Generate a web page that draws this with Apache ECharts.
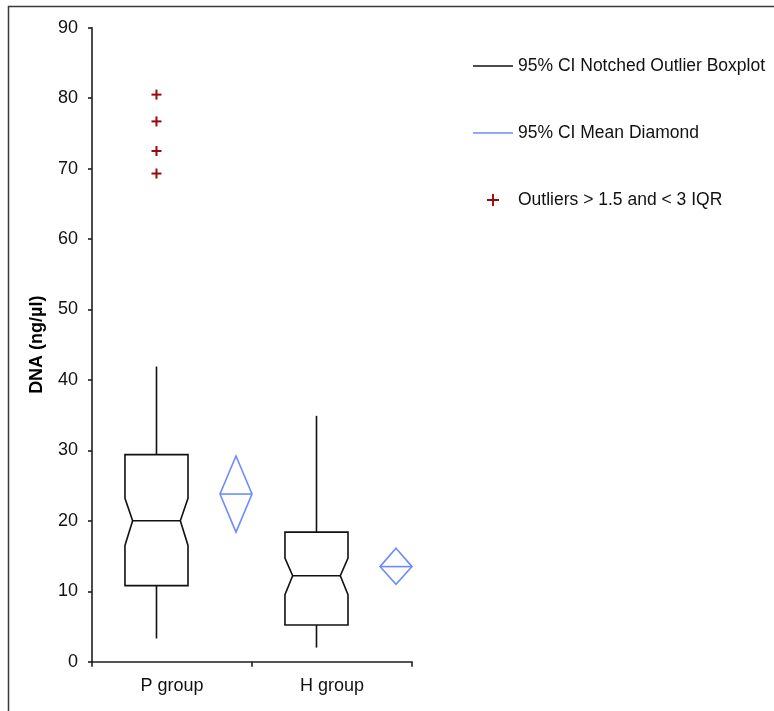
<!DOCTYPE html>
<html>
<head>
<meta charset="utf-8">
<title>DNA concentration by group</title>
<script src="https://cdn.jsdelivr.net/npm/echarts@6/dist/echarts.min.js"></script>
<style>
  html, body { margin: 0; padding: 0; background: #fff; }
  #chart { width: 774px; height: 711px; }
</style>
</head>
<body>
<div id="chart"></div>
<script>
// Groups on the x axis
const categories = ['P group', 'H group'];

// Notched boxplot statistics (ng/µl)
const whiskerLow  = [3.3, 2.0];
const quartile1   = [10.8, 5.2];
const notchLow    = [16.5, 9.5];
const medians     = [20.0, 12.2];
const notchHigh   = [23.2, 14.7];
const quartile3   = [29.4, 18.4];
const whiskerHigh = [41.9, 34.9];

// Mean with its 95% confidence interval
const meanLow  = [18.4, 11.0];
const means    = [23.8, 13.5];
const meanHigh = [29.2, 16.1];

// Mild outliers (> 1.5 and < 3 IQR), P group only
const outlierGroup  = [0, 0, 0, 0];
const outlierValues = [69.3, 72.5, 76.7, 80.5];

// Y axis ticks
const yMin = 0, yMax = 90, yStep = 10;

// Placement within each category band (fractions of band width)
const BOX_OFFSET = -0.097;
const BOX_HALF = 0.197;
const NOTCH_INSET = 0.048;
const DIAMOND_OFFSET = 0.40;
const DIAMOND_HALF = 0.10;

const FONT = "'Liberation Sans', Arial, sans-serif";
const AXIS_COLOR = '#1e1e1e';
const BOX_COLOR = '#111111';
const DIAMOND_COLOR = '#6b8cff';
const OUTLIER_COLOR = '#9b0a0a';

const boxData = categories.map((c, i) => [i, whiskerLow[i], quartile1[i], notchLow[i], medians[i], notchHigh[i], quartile3[i], whiskerHigh[i]]);
const meanData = categories.map((c, i) => [i, meanLow[i], means[i], meanHigh[i]]);
const outlierData = outlierValues.map((v, k) => [outlierGroup[k], v]);

function renderBox(params, api) {
  const i = api.value(0);
  const bw = api.size([1, 0])[0];
  const cx = api.coord([i, 0])[0] + BOX_OFFSET * bw;
  const half = BOX_HALF * bw;
  const inset = NOTCH_INSET * bw;
  const y = v => api.coord([i, v])[1];
  const wl = y(api.value(1)), q1 = y(api.value(2)), nl = y(api.value(3));
  const md = y(api.value(4)), nh = y(api.value(5)), q3 = y(api.value(6)), wh = y(api.value(7));
  const stroke = { stroke: BOX_COLOR, lineWidth: 1.6, fill: 'none' };
  return {
    type: 'group',
    children: [
      { type: 'polygon', shape: { points: [
          [cx - half, q3], [cx + half, q3], [cx + half, nh], [cx + half - inset, md],
          [cx + half, nl], [cx + half, q1], [cx - half, q1], [cx - half, nl],
          [cx - half + inset, md], [cx - half, nh]
        ] }, style: stroke },
      { type: 'line', shape: { x1: cx - half + inset, y1: md, x2: cx + half - inset, y2: md }, style: stroke },
      { type: 'line', shape: { x1: cx, y1: q3, x2: cx, y2: wh }, style: stroke },
      { type: 'line', shape: { x1: cx, y1: q1, x2: cx, y2: wl }, style: stroke }
    ]
  };
}

function renderDiamond(params, api) {
  const i = api.value(0);
  const bw = api.size([1, 0])[0];
  const cx = api.coord([i, 0])[0] + DIAMOND_OFFSET * bw;
  const half = DIAMOND_HALF * bw;
  const y = v => api.coord([i, v])[1];
  const lo = y(api.value(1)), m = y(api.value(2)), hi = y(api.value(3));
  const stroke = { stroke: DIAMOND_COLOR, lineWidth: 1.6, fill: 'none' };
  return {
    type: 'group',
    children: [
      { type: 'polygon', shape: { points: [[cx, hi], [cx + half, m], [cx, lo], [cx - half, m]] }, style: stroke },
      { type: 'line', shape: { x1: cx - half, y1: m, x2: cx + half, y2: m }, style: stroke }
    ]
  };
}

function renderOutlier(params, api) {
  const i = api.value(0);
  const bw = api.size([1, 0])[0];
  const p = api.coord([i, api.value(1)]);
  const cx = p[0] + BOX_OFFSET * bw, cy = p[1];
  const r = 5;
  const stroke = { stroke: OUTLIER_COLOR, lineWidth: 2 };
  return {
    type: 'group',
    children: [
      { type: 'line', shape: { x1: cx - r, y1: cy, x2: cx + r, y2: cy }, style: stroke },
      { type: 'line', shape: { x1: cx, y1: cy - r, x2: cx, y2: cy + r }, style: stroke }
    ]
  };
}

const LINE_ICON = 'path://M0,0H40V1.4H0Z';
const PLUS_ICON = 'path://M4.2,0H5.8V4.2H10V5.8H5.8V10H4.2V5.8H0V4.2H4.2Z';

const chart = echarts.init(document.getElementById('chart'), null, { renderer: 'canvas' });

chart.setOption({
  animation: false,
  backgroundColor: '#ffffff',
  textStyle: { fontFamily: FONT },
  graphic: [
    { type: 'rect', left: 6, top: 4, shape: { x: 0, y: 0, width: 820, height: 760 },
      style: { fill: 'none', stroke: '#3a3a3a', lineWidth: 1.5 }, silent: true }
  ],
  legend: {
    orient: 'vertical',
    left: 468,
    top: 52,
    itemWidth: 40,
    itemHeight: 12,
    itemGap: 49,
    textStyle: { fontFamily: FONT, fontSize: 17.5, color: '#111', lineHeight: 18 },
    data: [
      { name: '95% CI Notched Outlier Boxplot', icon: LINE_ICON },
      { name: '95% CI Mean Diamond', icon: LINE_ICON },
      { name: 'Outliers > 1.5 and < 3 IQR', icon: PLUS_ICON }
    ],
    selectedMode: false
  },
  grid: { left: 92, right: 362, top: 27.7, bottom: 49.3, containLabel: false },
  xAxis: {
    type: 'category',
    data: categories,
    boundaryGap: true,
    axisLine: { lineStyle: { color: AXIS_COLOR, width: 1.6 } },
    axisTick: { show: true, inside: false, length: 5, alignWithLabel: false, lineStyle: { color: AXIS_COLOR, width: 1.6 } },
    axisLabel: { fontFamily: FONT, fontSize: 18, color: '#111', margin: 15 },
    splitLine: { show: false }
  },
  yAxis: {
    type: 'value',
    min: yMin,
    max: yMax,
    interval: yStep,
    name: 'DNA (ng/µl)',
    nameLocation: 'middle',
    nameRotate: 90,
    nameGap: 46,
    nameTextStyle: { fontFamily: FONT, fontSize: 18, fontWeight: 'bold', color: '#000' },
    axisLine: { show: true, lineStyle: { color: AXIS_COLOR, width: 1.6 } },
    axisTick: { show: true, inside: false, length: 4, lineStyle: { color: AXIS_COLOR, width: 1.6 } },
    axisLabel: { fontFamily: FONT, fontSize: 18, color: '#111', margin: 14 },
    splitLine: { show: false }
  },
  series: [
    {
      name: '95% CI Notched Outlier Boxplot',
      type: 'custom',
      renderItem: renderBox,
      encode: { x: 0, y: [1, 2, 3, 4, 5, 6, 7] },
      itemStyle: { color: BOX_COLOR },
      data: boxData,
      silent: true
    },
    {
      name: '95% CI Mean Diamond',
      type: 'custom',
      renderItem: renderDiamond,
      encode: { x: 0, y: [1, 2, 3] },
      itemStyle: { color: DIAMOND_COLOR },
      data: meanData,
      silent: true
    },
    {
      name: 'Outliers > 1.5 and < 3 IQR',
      type: 'custom',
      renderItem: renderOutlier,
      encode: { x: 0, y: 1 },
      itemStyle: { color: OUTLIER_COLOR },
      data: outlierData,
      silent: true
    }
  ]
});
</script>
</body>
</html>
